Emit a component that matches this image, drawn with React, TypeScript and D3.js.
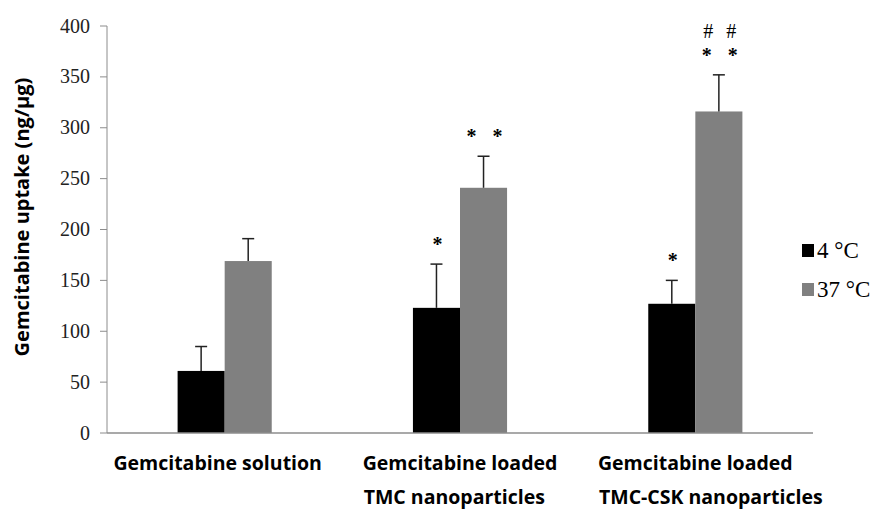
import React, { useEffect, useRef } from "react";
import * as d3 from "d3";

const categories = [
  ["Gemcitabine solution"],
  ["Gemcitabine loaded", "TMC nanoparticles"],
  ["Gemcitabine loaded", "TMC-CSK nanoparticles"],
];
const seriesNames = ["4 °C", "37 °C"];
const seriesColors = ["#000000", "#808080"];
const values4 = [61, 123, 127];
const values37 = [169, 241, 316];
const errors4 = [24, 43, 23];
const errors37 = [22, 31, 36];
// significance marks above each bar: [group, series, symbol rows from top]
const marks: [number, number, string[]][] = [
  [1, 0, ["*"]],
  [1, 1, ["**"]],
  [2, 0, ["*"]],
  [2, 1, ["##", "**"]],
];
const yTicks = [0, 50, 100, 150, 200, 250, 300, 350, 400];

const W = 874;
const H = 511;
const SERIF = "Times New Roman, Liberation Serif, Tinos, serif";
const SANS = "Open Sans, Lato, sans-serif";

export default function App() {
  const ref = useRef<SVGSVGElement>(null);

  useEffect(() => {
    const svg = d3.select(ref.current);
    svg.selectAll("*").remove();

    const left = 107;
    const right = 813;
    const top = 26;
    const bottom = 433;

    const x = d3.scaleBand<number>().domain([0, 1, 2]).range([left, right]);
    const inner = d3
      .scaleBand<number>()
      .domain([0, 1])
      .range([0, x.bandwidth() * 0.4]);
    const y = d3.scaleLinear().domain([0, 400]).range([bottom, top]);

    const series = [
      { vals: values4, errs: errors4 },
      { vals: values37, errs: errors37 },
    ];
    const barCenter = (gi: number, si: number) =>
      x(gi)! + x.bandwidth() * 0.3 + inner(si)! + inner.bandwidth() / 2;

    // y axis
    const g = svg.append("g");
    g.append("line")
      .attr("x1", left)
      .attr("x2", left)
      .attr("y1", y(400))
      .attr("y2", y(0))
      .attr("stroke", "#8c8c8c")
      .attr("stroke-width", 1);
    yTicks.forEach((t) => {
      g.append("line")
        .attr("x1", left - 7)
        .attr("x2", left)
        .attr("y1", y(t))
        .attr("y2", y(t))
        .attr("stroke", "#8c8c8c");
      g.append("text")
        .attr("x", left - 17)
        .attr("y", y(t))
        .attr("dy", "0.33em")
        .attr("text-anchor", "end")
        .style("font-family", SERIF)
        .style("font-size", "20px")
        .attr("fill", "#222")
        .text(t);
    });

    // y title
    svg
      .append("text")
      .attr("transform", `translate(22, ${217}) rotate(-90)`)
      .attr("text-anchor", "middle")
      .attr("dy", "0.35em")
      .style("font-family", SANS)
      .style("font-weight", "bold")
      .style("font-size", "20px")
      .attr("fill", "#000")
      .text("Gemcitabine uptake (ng/µg)");

    // bars and error bars
    series.forEach((s, si) => {
      s.vals.forEach((v, gi) => {
        const bw = inner.bandwidth();
        const cx = barCenter(gi, si);
        svg
          .append("rect")
          .attr("x", cx - bw / 2)
          .attr("y", y(v))
          .attr("width", bw)
          .attr("height", y(0) - y(v))
          .attr("fill", seriesColors[si]);
        svg
          .append("line")
          .attr("x1", cx)
          .attr("x2", cx)
          .attr("y1", y(v))
          .attr("y2", y(v + s.errs[gi]))
          .attr("stroke", "#222")
          .attr("stroke-width", 1.5);
        svg
          .append("line")
          .attr("x1", cx - 6)
          .attr("x2", cx + 6)
          .attr("y1", y(v + s.errs[gi]))
          .attr("y2", y(v + s.errs[gi]))
          .attr("stroke", "#222")
          .attr("stroke-width", 1.5);
      });
    });

    // x axis line
    svg
      .append("line")
      .attr("x1", left)
      .attr("x2", right)
      .attr("y1", y(0))
      .attr("y2", y(0))
      .attr("stroke", "#8c8c8c")
      .attr("stroke-width", 1.5);

    // significance marks
    marks.forEach(([gi, si, rows]) => {
      const s = series[si];
      const cx = barCenter(gi, si);
      const cap = y(s.vals[gi] + s.errs[gi]);
      rows.forEach((row) => {
        const syms = row.split("");
        const isHash = syms[0] === "#";
        const spread = isHash ? 11.5 : 13;
        syms.forEach((sym, k) => {
          const dx = syms.length === 1 ? 0 : k === 0 ? -spread : spread;
          svg
            .append("text")
            .attr("x", cx + dx + 1)
            .attr("y", cap - (isHash ? 37 : 13))
            .attr("text-anchor", "middle")
            .style("font-family", SERIF)
            .style("font-weight", isHash ? "normal" : "bold")
            .style("font-size", "20px")
            .attr("fill", "#000")
            .text(sym);
        });
      });
    });

    // category labels
    categories.forEach((lines, gi) => {
      const cx = x(gi)! + x.bandwidth() / 2;
      const first = svg
        .append("text")
        .attr("x", cx - (gi === 0 ? 7 : 0))
        .attr("y", 470)
        .attr("text-anchor", "middle")
        .style("font-family", SANS)
        .style("font-weight", "bold")
        .style("font-size", "19.5px")
        .attr("fill", "#000")
        .text(lines[0]);
      const w = (first.node() as SVGTextElement).getComputedTextLength();
      if (lines[1]) {
        svg
          .append("text")
          .attr("x", cx - w / 2 + 1)
          .attr("y", 504)
          .attr("text-anchor", "start")
          .style("font-family", SANS)
          .style("font-weight", "bold")
          .style("font-size", "19.5px")
          .attr("fill", "#000")
          .text(lines[1]);
      }
    });

    // legend
    seriesNames.forEach((name, i) => {
      const ly = 250 + i * 39;
      svg
        .append("rect")
        .attr("x", 802)
        .attr("y", ly - 6)
        .attr("width", 12)
        .attr("height", 13)
        .attr("fill", seriesColors[i]);
      svg
        .append("text")
        .attr("x", 817)
        .attr("y", ly + 8)
        .style("font-family", SERIF)
        .style("font-size", "23px")
        .attr("fill", "#000")
        .text(name);
    });
  }, []);

  return (
    <svg
      ref={ref}
      width={W}
      height={H}
      style={{ position: "absolute", left: 0, top: 0, background: "#fff" }}
    />
  );
}
